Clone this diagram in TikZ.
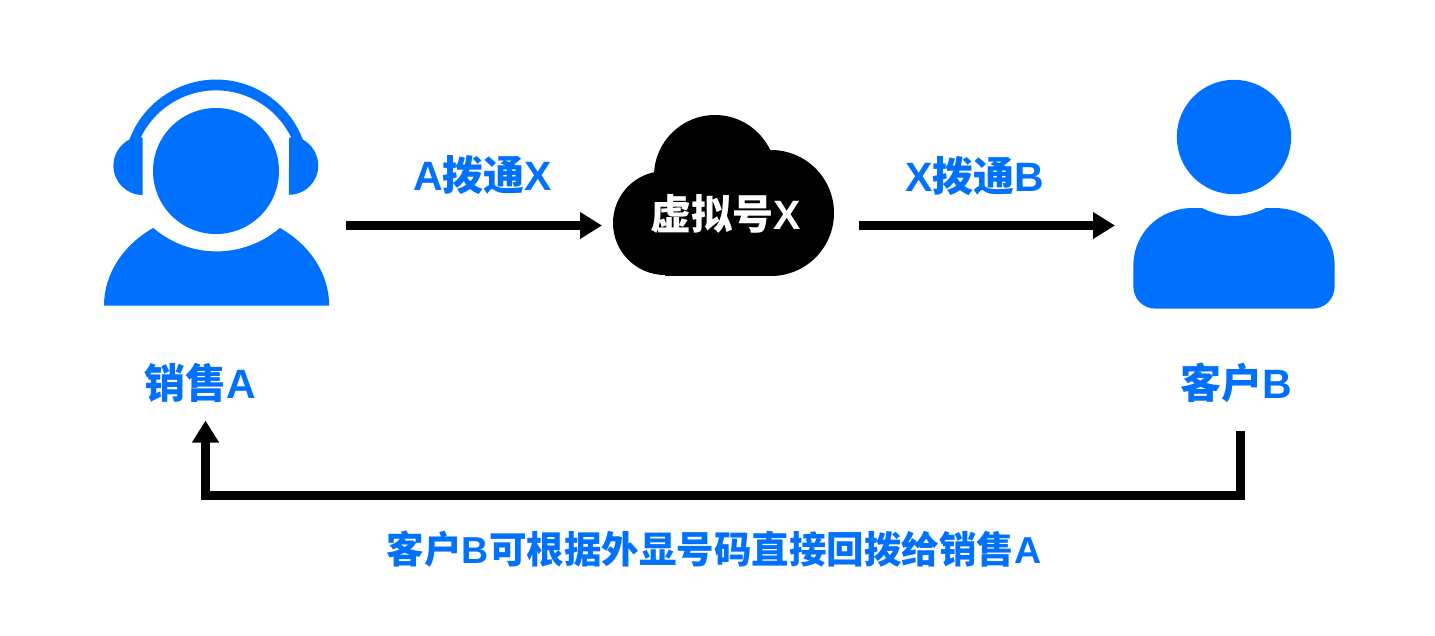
\documentclass[tikz,border=0pt]{standalone}
\usepackage{fontspec}
\setmainfont{Liberation Sans}[BoldFont={Liberation Sans Bold}]
\newfontfamily\cjk{Noto Sans CJK SC Bold}
\definecolor{brandblue}{HTML}{0070FF}
\usetikzlibrary{arrows.meta}
\tikzset{
  iconfill/.style={fill=brandblue,draw=none},
  bluelabel/.style={text=brandblue,font=\fontsize{41}{41}\selectfont\bfseries,inner sep=0pt,anchor=center},
  bottomlabel/.style={text=brandblue,font=\fontsize{37.5}{37.5}\selectfont\bfseries,inner sep=0pt,anchor=center},
  whitelabel/.style={text=white,font=\fontsize{41}{41}\selectfont\bfseries,inner sep=0pt,anchor=center},
  flow/.style={draw=black,line width=9pt,-{Triangle[length=22pt,width=25.5pt]}},
}
\begin{document}
\begin{tikzpicture}[x=1pt,y=-1pt]
\useasboundingbox (0,0) rectangle (1435,635);
\fill[white] (0,0) rectangle (1435,635);
% headset agent
\fill[iconfill] (216,171) circle[radius=63];
\fill[iconfill] (142.7,195) arc[start angle=-270,end angle=-117,radius=29.3]
  arc[start angle=-159.4,end angle=-20.6,radius=92.6]
  arc[start angle=-62,end angle=90,radius=29.3]
  -- (289,137.7) -- (291.3,137.7)
  arc[start angle=-25.7,end angle=-154.3,radius=83.6]
  -- (142.7,137.7) -- cycle;
\fill[iconfill] (104,305.7) arc[start angle=-180,end angle=-124.2,x radius=112.5,y radius=94]
  arc[start angle=-229.4,end angle=-310.6,radius=97.3]
  arc[start angle=-55.8,end angle=0,x radius=112.5,y radius=94] -- cycle;
% cloud
\begin{scope}
  \clip (600,100) rectangle (850,275);
  \fill[black] (665,223) circle[radius=52];
  \fill[black] (715,176) circle[radius=61];
  \fill[black] (771,213) circle[radius=63];
  \fill[black] (665,200) rectangle (771,276);
\end{scope}
% customer
\fill[iconfill] (1234,137) circle[radius=57.2];
\fill[iconfill] (1133.3,266.7)
  .. controls (1133.3,232) and (1160,208) .. (1193.3,208)
  -- (1201.7,208)
  .. controls (1210,212) and (1222,216) .. (1234,216)
  .. controls (1246,216) and (1258,212) .. (1266,208)
  -- (1274,208)
  .. controls (1308,208) and (1334.7,232) .. (1334.7,266.7)
  -- (1334.7,286)
  .. controls (1334.7,299) and (1325,308.7) .. (1312,308.7)
  -- (1156,308.7)
  .. controls (1143,308.7) and (1133.3,299) .. (1133.3,286) -- cycle;
% labels
\node[bluelabel] (agent) at (200,383) {{\cjk 销售}A};
\node[bluelabel] (client) at (1236,383) {{\cjk 客户}B};
\node[whitelabel] (virtual) at (725.5,214) {{\cjk 虚拟号}X};
\node[bluelabel] (ax) at (482.5,175) {A{\cjk 拨通}X};
\node[bluelabel] (xb) at (975,176) {X{\cjk 拨通}B};
\node[bottomlabel] (back) at (714,549) {{\cjk 客户}B{\cjk 可根据外显号码直接回拨给销售}A};
% connector ends
\coordinate (a1) at (346,225.5);
\coordinate (a2) at (602,225.5);
\coordinate (b1) at (859,225.5);
\coordinate (b2) at (1115,225.5);
\coordinate (c1) at (1240.5,431);
\coordinate (c2) at (1240.5,495);
\coordinate (c3) at (205.5,495);
\coordinate (c4) at (205.5,420.5);
\draw[flow] (a1) -- (a2);
\draw[flow] (b1) -- (b2);
\draw[flow] (c1) -- (c2) -- (c3) -- (c4);
\end{tikzpicture}
\end{document}
